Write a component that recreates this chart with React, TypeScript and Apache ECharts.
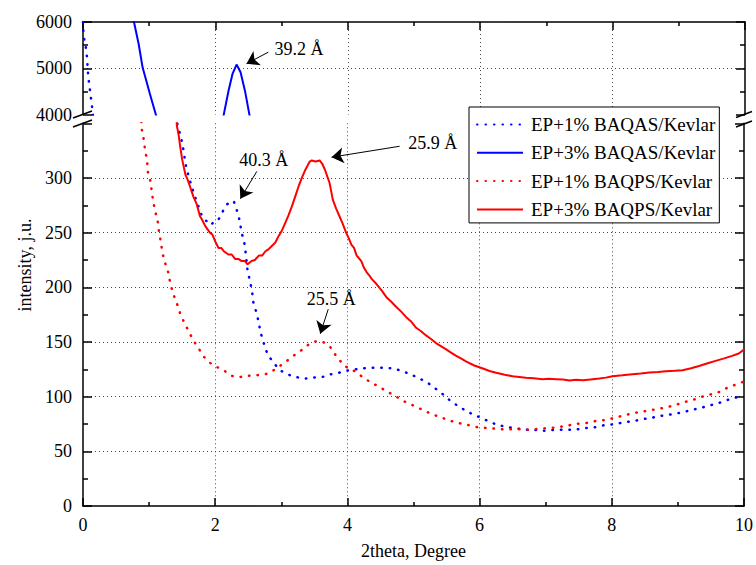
import React, { useEffect, useRef } from "react";
import * as echarts from "echarts";

const N1 = "EP+1% BAQAS/Kevlar";
const N2 = "EP+3% BAQAS/Kevlar";
const N3 = "EP+1% BAQPS/Kevlar";
const N4 = "EP+3% BAQPS/Kevlar";

// upper panel (4000-6000)
const blueDotUpper = [[0, 6000], [0.01, 5685], [0.04, 5490], [0.06, 5240], [0.08, 4810], [0.1, 4580], [0.12, 4360], [0.14, 4130], [0.155, 3900]];
const blueSolidA = [[0.74, 6150], [0.77, 6000], [0.84, 5530], [0.9, 5020], [1.01, 4450], [1.1, 4000], [1.12, 3880]];
const blueSolidB = [[2.11, 3880], [2.13, 4025], [2.2, 4525], [2.26, 4885], [2.32, 5080], [2.38, 4915], [2.45, 4490], [2.51, 4025], [2.53, 3880]];

// lower panel (0-350)
const blueDotLower = [[1.4, 365], [1.43, 348], [1.48, 338], [1.51, 329], [1.56, 310], [1.6, 301], [1.65, 291], [1.7, 282], [1.8, 265], [1.86, 261], [1.94, 257], [1.99, 261], [2.05, 262], [2.12, 270], [2.18, 276], [2.28, 279], [2.33, 270], [2.37, 261], [2.4, 250], [2.44, 241], [2.46, 232], [2.49, 215], [2.53, 205], [2.56, 195], [2.58, 185], [2.63, 176], [2.69, 158], [2.74, 148], [2.79, 139], [2.87, 132], [2.98, 124], [3.15, 119], [3.26, 117.5], [3.37, 116.6], [3.5, 117.5], [3.62, 118], [3.75, 120.5], [3.88, 122], [4.01, 124], [4.19, 125.5], [4.32, 126.5], [4.45, 126.5], [4.58, 126.5], [4.72, 125.5], [4.85, 123], [4.97, 120], [5.08, 117], [5.22, 112.5], [5.34, 107], [5.46, 101.5], [5.57, 95.5], [5.7, 90.6], [5.82, 86], [5.97, 82], [6.1, 78.5], [6.24, 74.8], [6.39, 72.4], [6.53, 71.2], [6.7, 69.7], [6.85, 69.5], [6.98, 68.8], [7.16, 69.7], [7.31, 69.7], [7.44, 69.7], [7.58, 71.2], [7.73, 71.8], [7.89, 74], [8.04, 74.8], [8.19, 76.6], [8.34, 77.8], [8.47, 79.4], [8.62, 80.9], [8.77, 82.7], [8.92, 83.9], [9.07, 85.7], [9.21, 87.8], [9.36, 90], [9.51, 92.4], [9.65, 94.8], [9.79, 97.8], [9.93, 100], [10, 101]];

const redDot = [[0.86, 375], [0.89, 344.5], [0.92, 335], [0.94, 325], [0.97, 316], [0.98, 306], [1.02, 297], [1.04, 288], [1.06, 279], [1.09, 270], [1.13, 260.5], [1.15, 250.5], [1.18, 241], [1.2, 232], [1.24, 222.7], [1.29, 213.6], [1.32, 204], [1.36, 194.5], [1.42, 185.6], [1.47, 176], [1.53, 168], [1.6, 159.6], [1.67, 151.5], [1.75, 144], [1.83, 136.4], [1.92, 131], [2.03, 127], [2.13, 124], [2.25, 119], [2.38, 118], [2.5, 119], [2.63, 119.6], [2.76, 120.5], [2.88, 124], [3.01, 129.4], [3.13, 134.8], [3.23, 139.4], [3.34, 144], [3.43, 148.5], [3.51, 150.5], [3.62, 150.5], [3.74, 145.5], [3.84, 136.4], [3.96, 128], [4.11, 123.3], [4.23, 118], [4.34, 113.6], [4.48, 109], [4.61, 104.5], [4.74, 100], [4.87, 95.4], [5.01, 91.6], [5.14, 87.8], [5.28, 84], [5.42, 81], [5.55, 78], [5.7, 75.7], [5.85, 73.8], [5.98, 71.9], [6.15, 71.2], [6.3, 70.3], [6.45, 70.3], [6.6, 70.3], [6.75, 69.7], [6.9, 70.6], [7.03, 71.2], [7.16, 71.8], [7.31, 73.3], [7.46, 75.1], [7.6, 75.7], [7.76, 77.8], [7.91, 78.7], [8.06, 80.9], [8.21, 83.3], [8.37, 85.4], [8.52, 86.9], [8.67, 88.5], [8.82, 90], [8.96, 92.4], [9.12, 95.4], [9.25, 97.5], [9.37, 100], [9.52, 102.4], [9.66, 105], [9.77, 109], [9.93, 112], [10, 114]];

const redSolid = [[1.41, 360], [1.42, 348], [1.45, 338], [1.47, 329], [1.5, 317], [1.55, 303], [1.58, 299], [1.62, 292], [1.67, 283], [1.72, 276], [1.77, 265], [1.8, 262], [1.85, 256], [1.92, 250], [1.96, 248], [2.0, 242], [2.05, 236], [2.09, 236], [2.13, 233], [2.2, 230], [2.25, 230], [2.3, 226], [2.35, 226], [2.4, 224], [2.45, 224], [2.49, 221], [2.55, 224], [2.6, 225], [2.66, 229], [2.71, 229], [2.76, 233], [2.81, 235], [2.86, 238], [2.91, 241], [2.96, 247], [3.01, 252], [3.06, 259], [3.11, 266], [3.16, 274], [3.21, 283], [3.26, 292], [3.31, 300], [3.36, 307], [3.43, 315], [3.46, 316], [3.52, 315], [3.58, 316], [3.62, 313], [3.66, 307.5], [3.73, 295.5], [3.78, 280], [3.83, 272], [3.88, 265], [3.93, 258], [3.98, 250], [4.02, 245], [4.06, 239], [4.1, 236], [4.14, 229], [4.17, 227], [4.21, 224], [4.25, 218], [4.29, 214], [4.33, 211], [4.37, 207.5], [4.44, 203], [4.52, 197], [4.59, 191], [4.66, 187], [4.74, 182], [4.81, 178], [4.89, 172.7], [4.96, 169], [5.04, 163], [5.11, 160], [5.19, 156], [5.26, 153], [5.34, 149], [5.42, 146], [5.5, 143], [5.55, 141], [5.64, 137.5], [5.73, 134.5], [5.8, 132], [5.92, 128.5], [6.05, 125.7], [6.15, 123.5], [6.25, 121.8], [6.38, 120], [6.5, 118.7], [6.6, 118], [6.7, 117.3], [6.82, 116.8], [6.95, 116], [7.05, 116.4], [7.16, 116], [7.26, 115.6], [7.36, 114.8], [7.46, 115.4], [7.56, 115], [7.68, 115.8], [7.81, 116.6], [7.91, 117.4], [8.01, 118.7], [8.16, 119.5], [8.31, 120.5], [8.44, 121.2], [8.57, 122], [8.7, 122.6], [8.82, 123.3], [8.95, 123.7], [9.07, 124.2], [9.2, 126], [9.32, 128], [9.45, 130.5], [9.57, 132.7], [9.7, 135], [9.82, 137.3], [9.92, 139.5], [10, 143]];

// annotations: [text, textX, textY, arrowFromX, arrowFromY, arrowToX, arrowToY]
const notesUpper = [["39.2 Å", 3.264, 5427, 2.8, 5348, 2.47, 5099]];
const notesLower = [
  ["40.3 Å", 2.736, 316, 2.63, 306, 2.38, 281],
  ["25.9 Å", 5.29, 332, 4.79, 329, 3.76, 319],
  ["25.5 Å", 3.755, 189.4, 3.71, 180, 3.59, 157.5],
];

const FONT = "Liberation Serif, serif";
const BLUE = "#0000ff";
const RED = "#ff0000";

const dotted = (c: string) => ({ color: c, width: 2.5, type: [0.5, 8], cap: "round" });
const solid = (c: string) => ({ color: c, width: 2 });

const mkNotes = (notes: any[]) => ({
  markLine: {
    silent: true,
    symbol: ["none", "arrow"],
    symbolSize: 12,
    label: { show: false },
    lineStyle: { color: "#000", width: 1, type: "solid" },
    emphasis: { disabled: true },
    data: notes.map((n) => [{ coord: [n[3], n[4]] }, { coord: [n[5], n[6]] }]),
  },
  markPoint: {
    silent: true,
    symbol: "rect",
    symbolSize: 1,
    itemStyle: { color: "rgba(0,0,0,0)" },
    label: { show: true, position: "inside", color: "#000", fontSize: 18, fontFamily: FONT },
    data: notes.map((n) => ({ coord: [n[1], n[2]], label: { formatter: n[0] } })),
  },
});

const gridLine = { color: "#444", width: 1, type: [1, 3] };
const axisLine = { show: true, lineStyle: { color: "#000", width: 1.5 } };
const plain = (v: number) => String(v);

export default function App() {
  const ref = useRef<HTMLDivElement>(null);
  useEffect(() => {
    const chart = echarts.init(ref.current!, undefined, { renderer: "svg" });
    const xBase = {
      type: "value",
      min: 0,
      max: 10,
      interval: 2,
      axisLine,
      axisTick: { show: true, inside: true, length: 8, lineStyle: { color: "#000", width: 1.5 } },
      minorTick: { show: true, splitNumber: 2, length: 4, lineStyle: { color: "#000", width: 1.5 } },
      splitLine: { show: true, lineStyle: gridLine, showMinLine: false, showMaxLine: false },
    };
    const yTick = { show: true, inside: true, length: 9, lineStyle: { color: "#000", width: 1.5 } };
    const yMinor = { show: true, splitNumber: 2, length: 5, lineStyle: { color: "#000", width: 1.5 } };
    const labelStyle = { color: "#000", fontSize: 18, fontFamily: FONT };
    const option: any = {
      animation: false,
      backgroundColor: "#fff",
      textStyle: { fontFamily: FONT },
      grid: [
        { left: 83, right: 11, top: 22, height: 92.5 },
        { left: 83, right: 11, top: 123.3, height: 385 },
      ],
      xAxis: [
        { ...xBase, gridIndex: 0, position: "top", axisLabel: { show: false } },
        {
          ...xBase,
          gridIndex: 1,
          position: "bottom",
          axisLabel: { show: true, ...labelStyle, margin: 10, formatter: plain },
          name: "2theta, Degree",
          nameLocation: "middle",
          nameGap: 36,
          nameTextStyle: labelStyle,
        },
      ],
      yAxis: [
        {
          type: "value", gridIndex: 0, min: 4000, max: 6000, interval: 1000, position: "left",
          axisLine, axisTick: yTick, minorTick: yMinor,
          axisLabel: { ...labelStyle, margin: 11, formatter: plain },
          splitLine: { show: true, lineStyle: gridLine, showMinLine: false, showMaxLine: false },
        },
        {
          type: "value", gridIndex: 0, min: 4000, max: 6000, interval: 1000, position: "right",
          axisLine, axisTick: yTick, minorTick: yMinor, axisLabel: { show: false }, splitLine: { show: false },
        },
        {
          type: "value", gridIndex: 1, min: 0, max: 350, interval: 50, position: "left",
          axisLine, axisTick: yTick, minorTick: yMinor,
          axisLabel: { ...labelStyle, margin: 11, showMaxLabel: false, formatter: plain },
          splitLine: { show: true, lineStyle: gridLine, showMinLine: false, showMaxLine: false },
        },
        {
          type: "value", gridIndex: 1, min: 0, max: 350, interval: 50, position: "right",
          axisLine, axisTick: yTick, minorTick: yMinor, axisLabel: { show: false }, splitLine: { show: false },
        },
      ],
      legend: {
        data: [N1, N2, N3, N4],
        orient: "vertical",
        left: 469,
        top: 107,
        itemWidth: 46,
        itemHeight: 14,
        itemGap: 9.3,
        padding: [8, 4, 4, 7],
        borderColor: "#000",
        borderWidth: 1,
        backgroundColor: "#fff",
        selectedMode: false,
        itemStyle: { opacity: 0 },
        textStyle: { color: "#000", fontSize: 19, fontFamily: FONT, lineHeight: 18, padding: [0, 0, 0, 3] },
      },
      series: [
        { name: N1, type: "line", xAxisIndex: 1, yAxisIndex: 2, data: blueDotLower, symbol: "none", lineStyle: dotted(BLUE), itemStyle: { color: BLUE }, silent: true },
        { name: N2, type: "line", xAxisIndex: 0, yAxisIndex: 0, data: blueSolidA, symbol: "none", lineStyle: solid(BLUE), itemStyle: { color: BLUE }, silent: true },
        { name: N3, type: "line", xAxisIndex: 1, yAxisIndex: 2, data: redDot, symbol: "none", lineStyle: dotted(RED), itemStyle: { color: RED }, silent: true },
        { name: N4, type: "line", xAxisIndex: 1, yAxisIndex: 2, data: redSolid, symbol: "none", lineStyle: solid(RED), itemStyle: { color: RED }, silent: true, ...mkNotes(notesLower) },
        { name: N1, type: "line", xAxisIndex: 0, yAxisIndex: 0, data: blueDotUpper, symbol: "none", lineStyle: dotted(BLUE), itemStyle: { color: BLUE }, silent: true },
        { name: N2, type: "line", xAxisIndex: 0, yAxisIndex: 0, data: blueSolidB, symbol: "none", lineStyle: solid(BLUE), itemStyle: { color: BLUE }, silent: true, ...mkNotes(notesUpper) },
      ],
      graphic: [
        {
          type: "text", x: 25, y: 265, rotation: Math.PI / 2, silent: true,
          style: { text: "intensity, j.u.", fill: "#000", fontSize: 18, fontFamily: FONT, align: "center", verticalAlign: "middle" },
        },
        { type: "line", silent: true, shape: { x1: 73, y1: 118, x2: 92, y2: 111 }, style: { stroke: "#000", lineWidth: 1.5 } },
        { type: "line", silent: true, shape: { x1: 73, y1: 127, x2: 92, y2: 120 }, style: { stroke: "#000", lineWidth: 1.5 } },
        { type: "line", silent: true, shape: { x1: 736, y1: 117.5, x2: 752, y2: 111.5 }, style: { stroke: "#000", lineWidth: 1.5 } },
        { type: "line", silent: true, shape: { x1: 736, y1: 127, x2: 752, y2: 121 }, style: { stroke: "#000", lineWidth: 1.5 } },
      ],
    };
    chart.setOption(option);
    return () => chart.dispose();
  }, []);
  return <div ref={ref} style={{ position: "fixed", left: 0, top: 0, width: 756, height: 565 }} />;
}
